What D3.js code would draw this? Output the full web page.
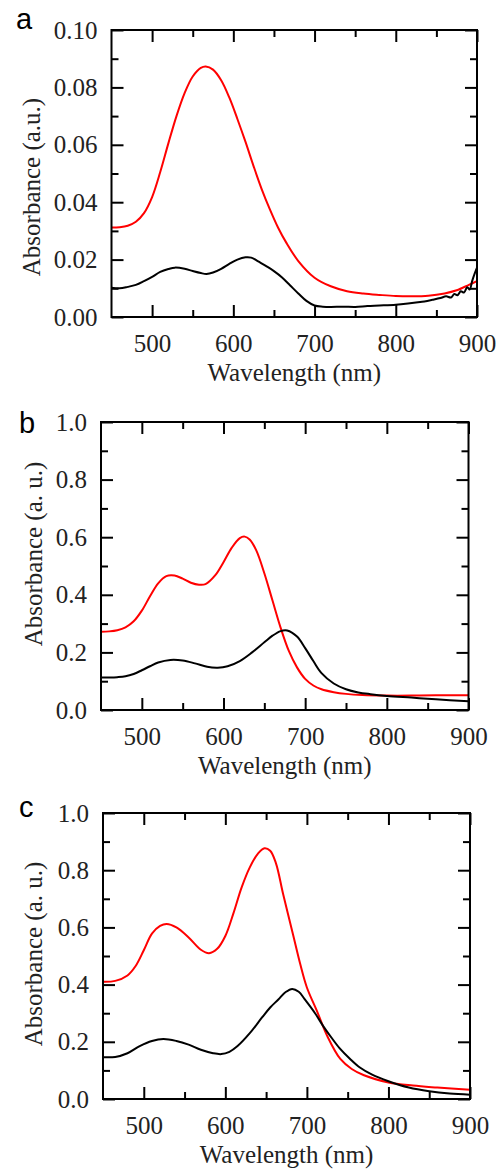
<!DOCTYPE html>
<html lang="en">
<head>
  <meta charset="UTF-8">
  <title>Absorbance spectra</title>
  <script src="https://cdn.jsdelivr.net/npm/d3@7"></script>
</head>
<body style="margin:0; background:#fff">
</body>
</html>
<script>
  const W = 499, H = 1170;

  // panel a
  const aRedWl = [450, 460, 470, 480, 490, 500, 510, 520, 530, 540, 550, 560, 566, 575, 585, 595, 605, 615, 625, 635, 645, 655, 665, 680, 700, 720, 740, 760, 780, 800, 820, 840, 860, 875, 890, 900];
  const aRed = [0.0312, 0.0313, 0.0318, 0.0332, 0.0362, 0.0418, 0.0505, 0.0605, 0.0700, 0.0780, 0.0838, 0.0868, 0.0873, 0.0862, 0.0825, 0.0765, 0.0690, 0.0610, 0.0525, 0.0445, 0.0375, 0.0312, 0.0260, 0.0195, 0.0137, 0.0107, 0.0090, 0.0082, 0.0077, 0.0073, 0.0072, 0.0074, 0.0082, 0.0093, 0.0112, 0.0125];
  const aBlackWl = [450, 460, 470, 480, 490, 500, 510, 520, 528, 540, 550, 560, 567, 575, 585, 595, 605, 615, 622, 630, 640, 650, 660, 670, 680, 690, 700, 710, 720, 735, 750, 765, 780, 800, 815, 830, 845, 855, 862, 868, 872, 876, 880, 884, 888, 891, 894, 897, 900];
  const aBlack = [0.0102, 0.0100, 0.0105, 0.0112, 0.0125, 0.0140, 0.0157, 0.0167, 0.0172, 0.0168, 0.0160, 0.0153, 0.0150, 0.0155, 0.0168, 0.0185, 0.0200, 0.0208, 0.0207, 0.0195, 0.0178, 0.0160, 0.0138, 0.0110, 0.0082, 0.0056, 0.0040, 0.0036, 0.0035, 0.0036, 0.0035, 0.0038, 0.0040, 0.0043, 0.0047, 0.0052, 0.0060, 0.0066, 0.0072, 0.0068, 0.0080, 0.0076, 0.0090, 0.0085, 0.0104, 0.0096, 0.0125, 0.0150, 0.0172];

  // panel b
  const bRedWl = [450, 460, 470, 480, 490, 500, 510, 520, 530, 540, 550, 560, 570, 578, 590, 600, 610, 620, 626, 632, 640, 650, 660, 670, 680, 690, 700, 710, 720, 735, 750, 770, 800, 830, 860, 900];
  const bRed = [0.272, 0.273, 0.277, 0.287, 0.308, 0.345, 0.395, 0.440, 0.465, 0.467, 0.456, 0.442, 0.435, 0.437, 0.468, 0.513, 0.563, 0.597, 0.602, 0.592, 0.555, 0.475, 0.380, 0.285, 0.205, 0.148, 0.108, 0.085, 0.072, 0.062, 0.056, 0.052, 0.050, 0.050, 0.051, 0.051];
  const bBlackWl = [450, 460, 470, 480, 490, 500, 510, 520, 535, 550, 565, 580, 593, 605, 620, 635, 650, 660, 670, 678, 690, 700, 710, 720, 735, 750, 765, 780, 800, 830, 860, 900];
  const bBlack = [0.113, 0.113, 0.114, 0.117, 0.125, 0.138, 0.152, 0.165, 0.174, 0.172, 0.162, 0.150, 0.147, 0.152, 0.170, 0.200, 0.235, 0.258, 0.274, 0.276, 0.255, 0.215, 0.170, 0.128, 0.092, 0.072, 0.061, 0.055, 0.049, 0.043, 0.037, 0.030];

  // panel c
  const cRedWl = [450, 465, 480, 490, 500, 510, 520, 528, 540, 555, 570, 580, 590, 600, 610, 620, 630, 640, 648, 655, 662, 671, 683, 692, 700, 712, 725, 741, 755, 770, 800, 830, 860, 900];
  const cRed = [0.410, 0.413, 0.432, 0.465, 0.520, 0.578, 0.605, 0.612, 0.600, 0.565, 0.522, 0.510, 0.525, 0.570, 0.650, 0.740, 0.810, 0.858, 0.877, 0.868, 0.825, 0.715, 0.575, 0.470, 0.390, 0.310, 0.220, 0.140, 0.105, 0.083, 0.058, 0.047, 0.040, 0.032];
  const cBlackWl = [450, 465, 480, 495, 510, 524, 540, 555, 570, 585, 595, 605, 615, 630, 645, 655, 665, 674, 682, 690, 697, 710, 720, 730, 740, 753, 765, 780, 800, 825, 850, 875, 900];
  const cBlack = [0.146, 0.147, 0.160, 0.185, 0.203, 0.210, 0.203, 0.190, 0.172, 0.160, 0.157, 0.165, 0.185, 0.230, 0.285, 0.320, 0.348, 0.374, 0.385, 0.375, 0.350, 0.300, 0.255, 0.215, 0.178, 0.140, 0.110, 0.085, 0.062, 0.040, 0.027, 0.019, 0.015];

  const xMajor = [500, 600, 700, 800, 900];
  const xMinor = [550, 650, 750, 850];

  const panels = [
    {
      label: "a", ytitle: "Absorbance (a.u.)",
      x0: 111.5, x1: 477, y0: 30, y1: 317, ymax: 0.10,
      yMajor: [0, 0.02, 0.04, 0.06, 0.08, 0.10], yMinor: [0.01, 0.03, 0.05, 0.07, 0.09], yfmt: ".2f",
      labelPos: [16, 29], ytitlePos: [40, 187], xtitleY: 381,
      series: [[aRedWl, aRed, "#ff0000"], [aBlackWl, aBlack, "#000"]]
    },
    {
      label: "b", ytitle: "Absorbance (a. u.)",
      x0: 101, x1: 468.5, y0: 422, y1: 710, ymax: 1.0,
      yMajor: [0, 0.2, 0.4, 0.6, 0.8, 1.0], yMinor: [0.1, 0.3, 0.5, 0.7, 0.9], yfmt: ".1f",
      labelPos: [19, 433], ytitlePos: [42, 554], xtitleY: 774,
      series: [[bRedWl, bRed, "#ff0000"], [bBlackWl, bBlack, "#000"]]
    },
    {
      label: "c", ytitle: "Absorbance (a. u.)",
      x0: 103, x1: 470, y0: 813, y1: 1099, ymax: 1.0,
      yMajor: [0, 0.2, 0.4, 0.6, 0.8, 1.0], yMinor: [0.1, 0.3, 0.5, 0.7, 0.9], yfmt: ".1f",
      labelPos: [19, 817], ytitlePos: [42, 954], xtitleY: 1163,
      series: [[cRedWl, cRed, "#ff0000"], [cBlackWl, cBlack, "#000"]]
    }
  ];

  const SERIF = "'Liberation Serif'";
  const SANS = "'Liberation Sans'";

  const svg = d3.select("body").append("svg").attr("width", W).attr("height", H)

  panels.forEach(function (p) {
    const x = d3.scaleLinear().domain([450, 900]).range([p.x0, p.x1]);
    const y = d3.scaleLinear().domain([0, p.ymax]).range([p.y1, p.y0]);
    const g = svg.append("g");

    // 曲线
    const line = d3.line().curve(d3.curveCatmullRom.alpha(0.5));
    p.series.forEach(function (s) {
      const pts = s[0].map(function (w, i) { return [x(w), y(s[1][i])]; });
      g.append("path").attr("d", line(pts)).attr("fill", "none")
        .attr("stroke", s[2]).attr("stroke-width", 2).attr("stroke-linejoin", "round");
    });

    // 坐标轴 (ticks inward)
    function addAxis(axis, tx, ty, labels) {
      const a = g.append("g").attr("transform", "translate(" + tx + "," + ty + ")").call(axis);
      a.select(".domain").remove();
      a.selectAll(".tick line").attr("stroke", "#000").attr("stroke-width", 2);
      if (!labels) a.selectAll(".tick text").remove();
      else a.selectAll(".tick text").style("font-family", SERIF).style("font-size", "25px").attr("fill", "#222");
    }
    addAxis(d3.axisBottom(x).tickValues(xMajor).tickSize(-12).tickPadding(17).tickFormat(d3.format("d")), 0, p.y1, true);
    addAxis(d3.axisBottom(x).tickValues(xMinor).tickSize(-7), 0, p.y1, false);
    addAxis(d3.axisTop(x).tickValues(xMajor).tickSize(-12), 0, p.y0, false);
    addAxis(d3.axisTop(x).tickValues(xMinor).tickSize(-7), 0, p.y0, false);
    addAxis(d3.axisLeft(y).tickValues(p.yMajor).tickSize(-12).tickPadding(14).tickFormat(d3.format(p.yfmt)), p.x0, 0, true);
    addAxis(d3.axisLeft(y).tickValues(p.yMinor).tickSize(-7), p.x0, 0, false);
    addAxis(d3.axisRight(y).tickValues(p.yMajor).tickSize(-12), p.x1, 0, false);
    addAxis(d3.axisRight(y).tickValues(p.yMinor).tickSize(-7), p.x1, 0, false);

    // 边框
    g.append("rect").attr("x", p.x0).attr("y", p.y0).attr("width", p.x1 - p.x0).attr("height", p.y1 - p.y0)
      .attr("fill", "none").attr("stroke", "#000").attr("stroke-width", 2);

    // 文字
    g.append("text").text("Wavelength (nm)").attr("x", (p.x0 + p.x1) / 2).attr("y", p.xtitleY)
      .attr("text-anchor", "middle").style("font-family", SERIF).style("font-size", "25px").attr("fill", "#222");
    g.append("text").text(p.ytitle)
      .attr("transform", "translate(" + p.ytitlePos[0] + "," + p.ytitlePos[1] + ") rotate(-90)")
      .attr("text-anchor", "middle").style("font-family", SERIF).style("font-size", "25px").attr("fill", "#222");
    g.append("text").text(p.label).attr("x", p.labelPos[0]).attr("y", p.labelPos[1])
      .style("font-family", SANS).style("font-size", "29px").attr("fill", "#000");
  });
</script>
